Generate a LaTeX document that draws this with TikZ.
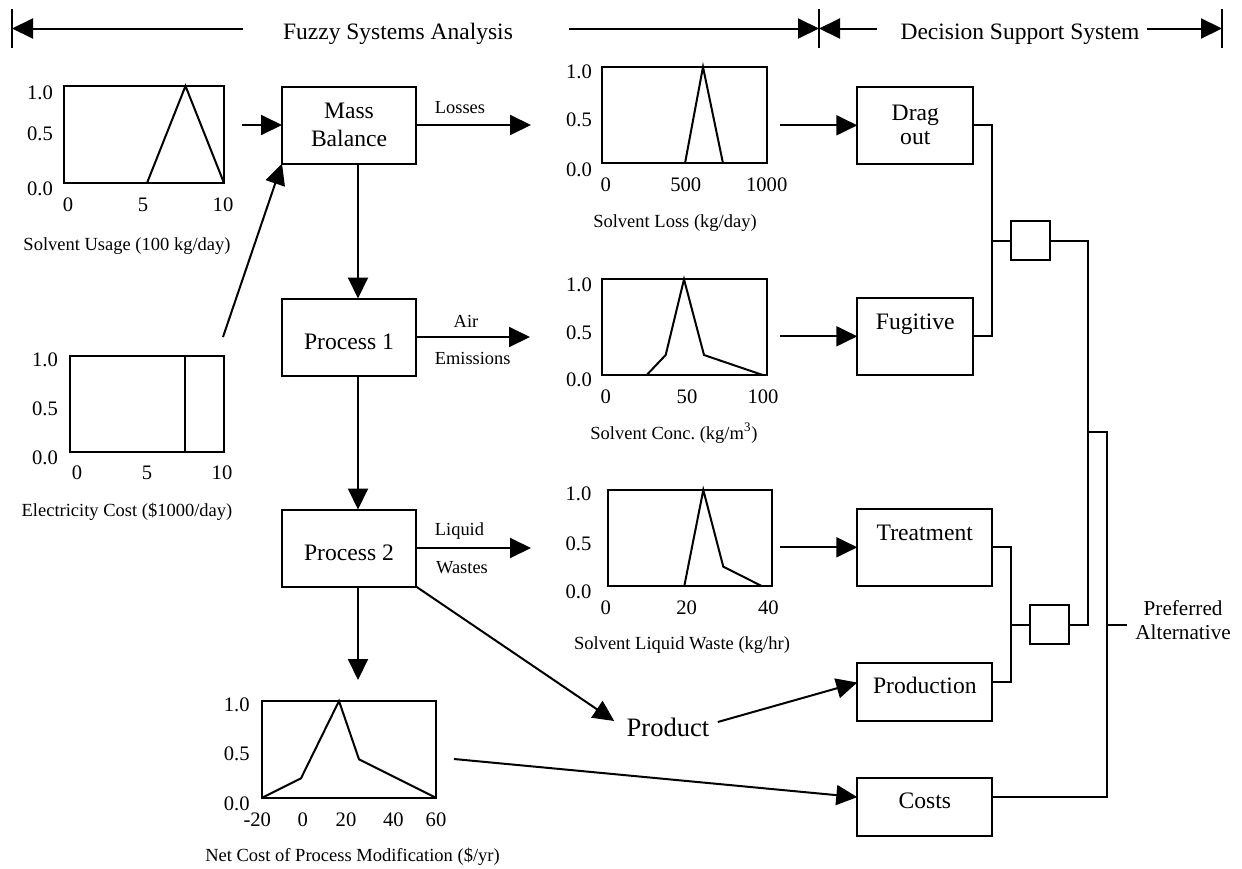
\documentclass[tikz,border=0pt]{standalone}
\usepackage{fontspec}
\setmainfont{Liberation Serif}
\usetikzlibrary{arrows.meta, positioning, calc}
\tikzset{
    procbox/.style={rectangle, draw, line width=1pt, align=center, inner sep=0pt, outer sep=0pt, minimum width=67pt, minimum height=38.5pt, font=\fontsize{11.8}{14.2}\selectfont},
    gatebox/.style={rectangle, draw, line width=1pt, minimum size=19.5pt, inner sep=0pt, outer sep=0pt},
    chartframe/.style={rectangle, draw, line width=1pt, inner sep=0pt, outer sep=0pt},
    plotline/.style={line width=1pt},
    arrow/.style={line width=1pt, -{Triangle[length=10.5pt, width=10pt]}},
    wire/.style={line width=1pt},
    heading/.style={inner sep=0pt, font=\fontsize{11.75}{14}\selectfont},
    flowlabel/.style={inner sep=0pt, font=\fontsize{9.2}{11}\selectfont},
    ticklabel/.style={inner sep=0pt, font=\fontsize{10.3}{12}\selectfont},
    captionlabel/.style={inner sep=0pt, font=\fontsize{9.25}{11}\selectfont}
}

\begin{document}
\begin{tikzpicture}[x=0.5pt, y=-0.5pt]
    \useasboundingbox (0,0) rectangle (1242,868);

    % Header
    \coordinate (fsaL) at (12,28.5);
    \coordinate (fsaR) at (819,28.5);
    \coordinate (dssR) at (1222,28.5);
    \coordinate (fsaA) at (243,28.5);
    \coordinate (fsaB) at (569,28.5);
    \coordinate (dssA) at (877,28.5);
    \coordinate (dssB) at (1147,28.5);
    \node[heading] (fsa) at (398,34) {Fuzzy Systems Analysis};
    \node[heading] (dss) at (1020,34) {Decision Support System};
    \draw[wire] ([yshift=9.75pt]fsaL) -- ([yshift=-9.75pt]fsaL);
    \draw[wire] ([yshift=9.75pt]fsaR) -- ([yshift=-9.75pt]fsaR);
    \draw[wire] ([yshift=9.75pt]dssR) -- ([yshift=-9.75pt]dssR);
    \draw[arrow] (fsaA) -- (fsaL);
    \draw[arrow] (fsaB) -- (fsaR);
    \draw[arrow] (dssA) -- (fsaR);
    \draw[arrow] (dssB) -- (dssR);

    % Input charts
    \node[chartframe, minimum width=80pt, minimum height=48.5pt] (usage) at (144,134.5) {};
    \draw[plotline] (147,183) -- (185.5,86) -- (224,183);
    \foreach \y/\t [count=\i] in {92.5/1.0, 134/0.5, 188.5/0.0}
        \node[ticklabel, anchor=east] (usage-y\i) at (53.3,\y) {\t};
    \foreach \x/\t [count=\i] in {68/0, 143/5, 223/10}
        \node[ticklabel] (usage-x\i) at (\x,205) {\t};
    \node[captionlabel] (usage-cap) at (127,246) {Solvent Usage (100 kg/day)};

    \node[chartframe, minimum width=77pt, minimum height=48pt] (elec) at (147,404) {};
    \draw[plotline] (185.3,356) -- (185.3,452);
    \foreach \y/\t [count=\i] in {360/1.0, 408.3/0.5, 457.8/0.0}
        \node[ticklabel, anchor=east] (elec-y\i) at (58.3,\y) {\t};
    \foreach \x/\t [count=\i] in {77/0, 147/5, 222/10}
        \node[ticklabel] (elec-x\i) at (\x,473) {\t};
    \node[captionlabel] (elec-cap) at (127,512) {Electricity Cost (\$1000/day)};

    % Process chain
    \node[procbox] (mb) at (349,125) {Mass\\Balance};
    \node[procbox, below=67.5pt of mb, text height=12.5pt] (p1) {Process 1};
    \node[procbox, below=67pt of p1, text height=12.5pt] (p2) {Process 2};
    \node[inner sep=0pt, font=\fontsize{13.3}{16}\selectfont] (product) at (668,727) {Product};

    \node[flowlabel] (losses) at (460,107.7) {Losses};
    \node[flowlabel] (air) at (466,321.7) {Air};
    \node[flowlabel] (emis) at (472.7,358) {Emissions};
    \node[flowlabel] (liquid) at (459.5,531) {Liquid};
    \node[flowlabel] (wastes) at (462,568) {Wastes};

    % Output charts
    \node[chartframe, minimum width=82.5pt, minimum height=48.15pt] (loss) at (684.5,115.2) {};
    \draw[plotline] (685,163.3) -- (703,67) -- (723,163.3);
    \foreach \y/\t [count=\i] in {72/1.0, 120/0.5, 170/0.0}
        \node[ticklabel, anchor=east] (loss-y\i) at (592.3,\y) {\t};
    \foreach \x/\t [count=\i] in {605.7/0, 685.7/500, 766.7/1000}
        \node[ticklabel] (loss-x\i) at (\x,185) {\t};
    \node[captionlabel] (loss-cap) at (675,223) {Solvent Loss (kg/day)};

    \node[chartframe, minimum width=82.5pt, minimum height=47.85pt] (conc) at (684.5,327.2) {};
    \draw[plotline] (646.7,375) -- (665.7,355) -- (684,279.3) -- (704,355) -- (762.7,375);
    \foreach \y/\t [count=\i] in {285/1.0, 333/0.5, 380/0.0}
        \node[ticklabel, anchor=east] (conc-y\i) at (592.3,\y) {\t};
    \foreach \x/\t [count=\i] in {605.7/0, 687/50, 763/100}
        \node[ticklabel] (conc-x\i) at (\x,396.7) {\t};
    \node[captionlabel] (conc-cap) at (674,433) {Solvent Conc.\ (kg/m\textsuperscript{3})};

    \node[chartframe, minimum width=82.3pt, minimum height=48pt] (waste) at (690,538) {};
    \draw[plotline] (684.3,586) -- (703.3,490) -- (723.3,566.7) -- (761.7,586);
    \foreach \y/\t [count=\i] in {493.3/1.0, 543.3/0.5, 591.7/0.0}
        \node[ticklabel, anchor=east] (waste-y\i) at (591.7,\y) {\t};
    \foreach \x/\t [count=\i] in {605.7/0, 686.7/20, 768.3/40}
        \node[ticklabel] (waste-x\i) at (\x,608) {\t};
    \node[captionlabel] (waste-cap) at (682,645) {Solvent Liquid Waste (kg/hr)};

    \node[chartframe, minimum width=86.7pt, minimum height=48.35pt] (netcost) at (349,749.3) {};
    \draw[plotline] (262.3,797.7) -- (301,778.3) -- (339,701) -- (359,759.3) -- (435.7,797.7);
    \foreach \y/\t [count=\i] in {705/1.0, 753.3/0.5, 803.3/0.0}
        \node[ticklabel, anchor=east] (netcost-y\i) at (250,\y) {\t};
    \foreach \x/\t [count=\i] in {257.3/-20, 302.7/0, 346/20, 393.3/40, 436/60}
        \node[ticklabel] (netcost-x\i) at (\x,820) {\t};
    \node[captionlabel] (netcost-cap) at (352.5,856.7) {Net Cost of Process Modification (\$/yr)};

    % Decision support
    \node[procbox, minimum width=58pt] (dragout) at (915.3,125.3) {Drag\\[-2.2pt]out};
    \node[procbox, minimum width=58pt, below=67pt of dragout] (fugitive) {Fugitive\\\mbox{}};
    \node[procbox, minimum width=67.5pt, below=67pt of fugitive.south west, anchor=north west] (treat) {Treatment\\\mbox{}};
    \node[procbox, minimum width=67.5pt, minimum height=29pt, text depth=6pt, below=38.35pt of treat.south west, anchor=north west] (prod) {Production};
    \node[procbox, minimum width=67.5pt, minimum height=29pt, text depth=6pt, below=28.8pt of prod.south west, anchor=north west] (costs) {Costs};
    \node[gatebox] (and1) at (1030.3,240.5) {};
    \node[gatebox] (and2) at (1049.5,624.5) {};
    \node[inner sep=4pt, align=center, anchor=west, font=\fontsize{10.6}{11.7}\selectfont] (pref) at (1127,620) {Preferred\\Alternative};

    % Free ends
    \coordinate (usage-out) at (242,125);
    \coordinate (elec-out) at (223,337);
    \coordinate (loss-in) at (531,125);
    \coordinate (conc-in) at (530,337);
    \coordinate (waste-in) at (531,548);
    \coordinate (cost-in) at (358,680);
    \coordinate (loss-out) at (780,125.3);
    \coordinate (conc-out) at (780,336.3);
    \coordinate (waste-out) at (780,547.3);
    \coordinate (netcost-out) at (454,759);
    \coordinate (bus1) at (992.3,240.5);
    \coordinate (bus2) at (1011,624.5);
    \coordinate (bus3) at (1087.7,432.3);
    \coordinate (bus4) at (1107.3,624.5);

    % Arrows
    \draw[arrow] (usage-out) -- (mb.west);
    \draw[arrow] (elec-out) -- (mb.south west);
    \draw[arrow] ([xshift=4.5pt]mb.south) -- ([xshift=4.5pt]p1.north);
    \draw[arrow] ([xshift=4.5pt]p1.south) -- ([xshift=4.5pt]p2.north);
    \draw[arrow] ([xshift=4.5pt]p2.south) -- (cost-in);
    \draw[arrow] (mb.east) -- (loss-in);
    \draw[arrow] (p1.east) -- (conc-in);
    \draw[arrow] (p2.east) -- (waste-in);
    \draw[arrow] (p2.south east) -- ([shift={(-6pt,3pt)}]product.west);
    \draw[arrow] ([shift={(4pt,2.5pt)}]product.east) -- ([yshift=4.5pt]prod.west);
    \draw[arrow] (loss-out) -- (dragout.west);
    \draw[arrow] (conc-out) -- (fugitive.west);
    \draw[arrow] (waste-out) -- (treat.west);
    \draw[arrow] (netcost-out) -- ([yshift=5pt]costs.west);

    % Combination wires
    \draw[wire] (dragout.east) -| (bus1) |- (fugitive.east);
    \draw[wire] (bus1) -- (and1.west);
    \draw[wire] (treat.east) -| (bus2) |- ([yshift=5pt]prod.east);
    \draw[wire] (bus2) -- (and2.west);
    \draw[wire] (and1.east) -| (bus3) |- (and2.east);
    \draw[wire] (bus3) -| (bus4) |- ([yshift=5pt]costs.east);
    \draw[wire] (bus4) -- (bus4 -| pref.west);

\end{tikzpicture}
\end{document}
